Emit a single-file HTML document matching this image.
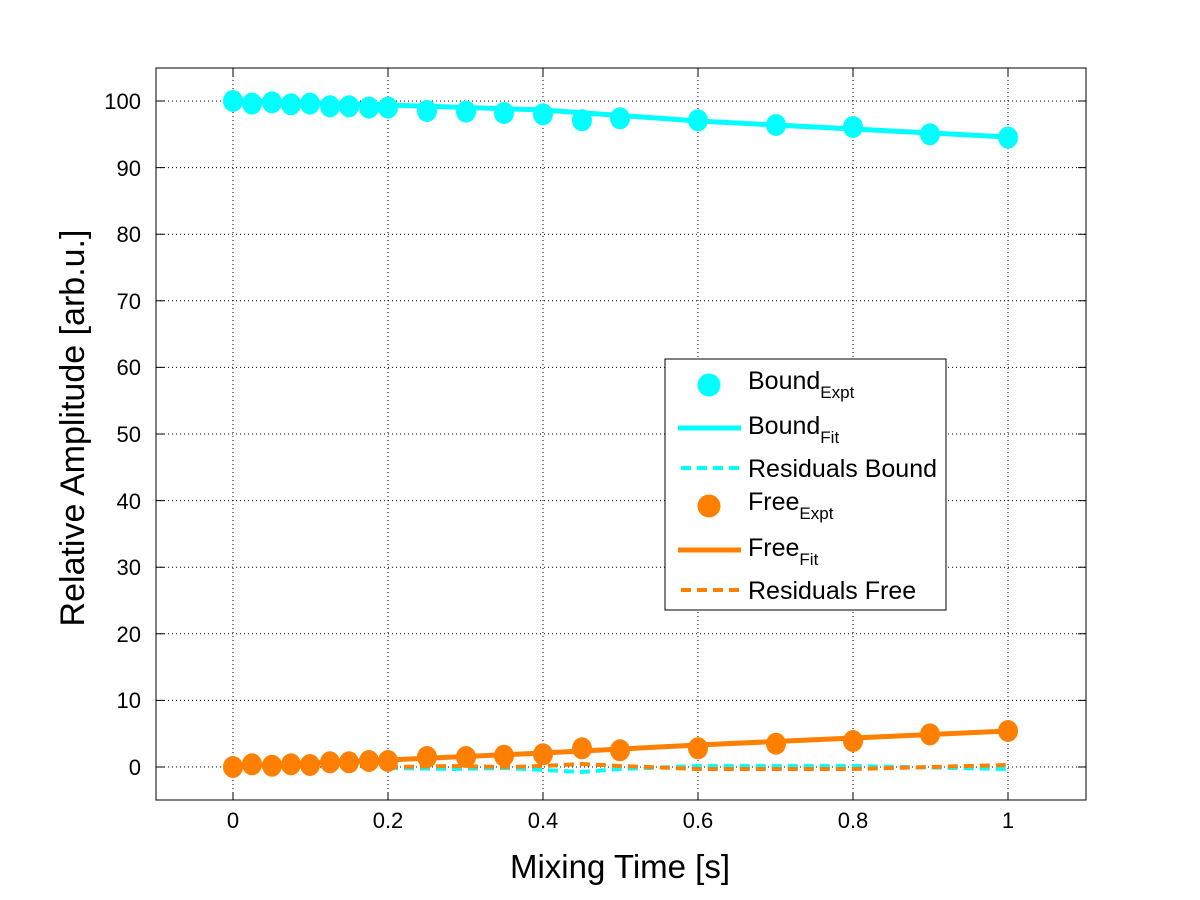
<!DOCTYPE html>
<html><head><meta charset="utf-8"><style>body{margin:0;background:#fff}svg{display:block;font-family:"Liberation Sans",sans-serif}</style></head><body>
<svg width="1200" height="900" viewBox="0 0 1200 900" xmlns="http://www.w3.org/2000/svg">
<rect width="1200" height="900" fill="#fff"/>
<g stroke="#000" stroke-width="1" stroke-dasharray="1,3">
<line x1="233" y1="68" x2="233" y2="800"/><line x1="388" y1="68" x2="388" y2="800"/><line x1="543" y1="68" x2="543" y2="800"/><line x1="698" y1="68" x2="698" y2="800"/><line x1="853" y1="68" x2="853" y2="800"/><line x1="1008" y1="68" x2="1008" y2="800"/>
<line x1="156" y1="767" x2="1086" y2="767"/><line x1="156" y1="700.4" x2="1086" y2="700.4"/><line x1="156" y1="633.8" x2="1086" y2="633.8"/><line x1="156" y1="567.2" x2="1086" y2="567.2"/><line x1="156" y1="500.6" x2="1086" y2="500.6"/><line x1="156" y1="434" x2="1086" y2="434"/><line x1="156" y1="367.4" x2="1086" y2="367.4"/><line x1="156" y1="300.8" x2="1086" y2="300.8"/><line x1="156" y1="234.2" x2="1086" y2="234.2"/><line x1="156" y1="167.6" x2="1086" y2="167.6"/><line x1="156" y1="101" x2="1086" y2="101"/>
</g>
<g stroke-width="4" fill="none">
<polyline stroke="#00ffff" stroke-dasharray="10,6" points="388,768 450,769 505,768 543,770 581,772 620,769 698,766 853,766 1008,769"/>
<polyline stroke="#ff8000" stroke-dasharray="10,6" points="388,767 450,766 505,767 543,766 581,764 620,766 698,769 853,769 1008,765"/>
<polyline stroke="#00ffff" stroke-width="5" points="233,100 388,105 543,110 698,121 853,129 1008,137"/>
<polyline stroke="#ff8000" stroke-width="5" points="233,766 388,760 543,753 698,745 853,738 1008,731"/>
</g>
<g fill="#00ffff">
<ellipse cx="233" cy="101" rx="10" ry="11"/><ellipse cx="252" cy="103.6" rx="10" ry="11"/><ellipse cx="272" cy="102.3" rx="10" ry="11"/><ellipse cx="291" cy="104.3" rx="10" ry="11"/><ellipse cx="310" cy="103.6" rx="10" ry="11"/><ellipse cx="330" cy="106.3" rx="10" ry="11"/><ellipse cx="349" cy="106.3" rx="10" ry="11"/><ellipse cx="369" cy="107.6" rx="10" ry="11"/><ellipse cx="388" cy="107.6" rx="10" ry="11"/><ellipse cx="427" cy="111" rx="10" ry="11"/><ellipse cx="466" cy="111.6" rx="10" ry="11"/><ellipse cx="504" cy="113" rx="10" ry="11"/><ellipse cx="543" cy="114.3" rx="10" ry="11"/><ellipse cx="582" cy="120.3" rx="10" ry="11"/><ellipse cx="620" cy="118.3" rx="10" ry="11"/><ellipse cx="698" cy="120.3" rx="10" ry="11"/><ellipse cx="776" cy="125" rx="10" ry="11"/><ellipse cx="853" cy="127" rx="10" ry="11"/><ellipse cx="930" cy="134.3" rx="10" ry="11"/><ellipse cx="1008" cy="137.6" rx="10" ry="11"/>
</g>
<g fill="#ff8000">
<ellipse cx="233" cy="767" rx="10" ry="11"/><ellipse cx="252" cy="764.3" rx="10" ry="11"/><ellipse cx="272" cy="765.7" rx="10" ry="11"/><ellipse cx="291" cy="764.3" rx="10" ry="11"/><ellipse cx="310" cy="765" rx="10" ry="11"/><ellipse cx="330" cy="762.3" rx="10" ry="11"/><ellipse cx="349" cy="762.3" rx="10" ry="11"/><ellipse cx="369" cy="761" rx="10" ry="11"/><ellipse cx="388" cy="761" rx="10" ry="11"/><ellipse cx="427" cy="757" rx="10" ry="11"/><ellipse cx="466" cy="757" rx="10" ry="11"/><ellipse cx="504" cy="755.7" rx="10" ry="11"/><ellipse cx="543" cy="754.3" rx="10" ry="11"/><ellipse cx="582" cy="748.3" rx="10" ry="11"/><ellipse cx="620" cy="750.3" rx="10" ry="11"/><ellipse cx="698" cy="748.3" rx="10" ry="11"/><ellipse cx="776" cy="743.7" rx="10" ry="11"/><ellipse cx="853" cy="741" rx="10" ry="11"/><ellipse cx="930" cy="734.4" rx="10" ry="11"/><ellipse cx="1008" cy="731" rx="10" ry="11"/>
</g>
<rect x="156" y="68" width="930" height="732" fill="none" stroke="#000" stroke-width="1"/>
<g stroke="#000" stroke-width="1">
<path d="M233,800v-8M388,800v-8M543,800v-8M698,800v-8M853,800v-8M1008,800v-8M233,68v8M388,68v8M543,68v8M698,68v8M853,68v8M1008,68v8"/>
<path d="M156,767h8M156,700.4h8M156,633.8h8M156,567.2h8M156,500.6h8M156,434h8M156,367.4h8M156,300.8h8M156,234.2h8M156,167.6h8M156,101h8M1086,767h-8M1086,700.4h-8M1086,633.8h-8M1086,567.2h-8M1086,500.6h-8M1086,434h-8M1086,367.4h-8M1086,300.8h-8M1086,234.2h-8M1086,167.6h-8M1086,101h-8"/>
</g>
<g font-size="22" text-anchor="middle" fill="#000">
<text x="233" y="828">0</text><text x="388" y="828">0.2</text><text x="543" y="828">0.4</text><text x="698" y="828">0.6</text><text x="853" y="828">0.8</text><text x="1008" y="828">1</text>
</g>
<g font-size="22" text-anchor="end" fill="#000">
<text x="141" y="775">0</text><text x="141" y="708">10</text><text x="141" y="642">20</text><text x="141" y="575">30</text><text x="141" y="509">40</text><text x="141" y="442">50</text><text x="141" y="375">60</text><text x="141" y="309">70</text><text x="141" y="242">80</text><text x="141" y="176">90</text><text x="141" y="109">100</text>
</g>
<text x="620" y="878" font-size="33" text-anchor="middle">Mixing Time [s]</text>
<text transform="translate(84,428) rotate(-90)" font-size="34" text-anchor="middle">Relative Amplitude [arb.u.]</text>
<rect x="665" y="359" width="281" height="251" fill="#fff" stroke="#000"/>
<g font-size="25" fill="#000">
<circle cx="709" cy="385" r="11.5" fill="#00ffff"/>
<text x="748" y="389">Bound<tspan font-size="17" dy="9">Expt</tspan></text>
<line x1="678" y1="428" x2="741" y2="428" stroke="#00ffff" stroke-width="5"/>
<text x="748" y="434">Bound<tspan font-size="17" dy="9">Fit</tspan></text>
<line x1="681" y1="468" x2="741" y2="468" stroke="#00ffff" stroke-width="4" stroke-dasharray="10,6"/>
<text x="748" y="477">Residuals Bound</text>
<circle cx="709" cy="506" r="11.5" fill="#ff8000"/>
<text x="748" y="510">Free<tspan font-size="17" dy="9">Expt</tspan></text>
<line x1="678" y1="550" x2="741" y2="550" stroke="#ff8000" stroke-width="5"/>
<text x="748" y="556">Free<tspan font-size="17" dy="9">Fit</tspan></text>
<line x1="681" y1="590" x2="741" y2="590" stroke="#ff8000" stroke-width="4" stroke-dasharray="10,6"/>
<text x="748" y="599">Residuals Free</text>
</g>
</svg>
</body></html>
